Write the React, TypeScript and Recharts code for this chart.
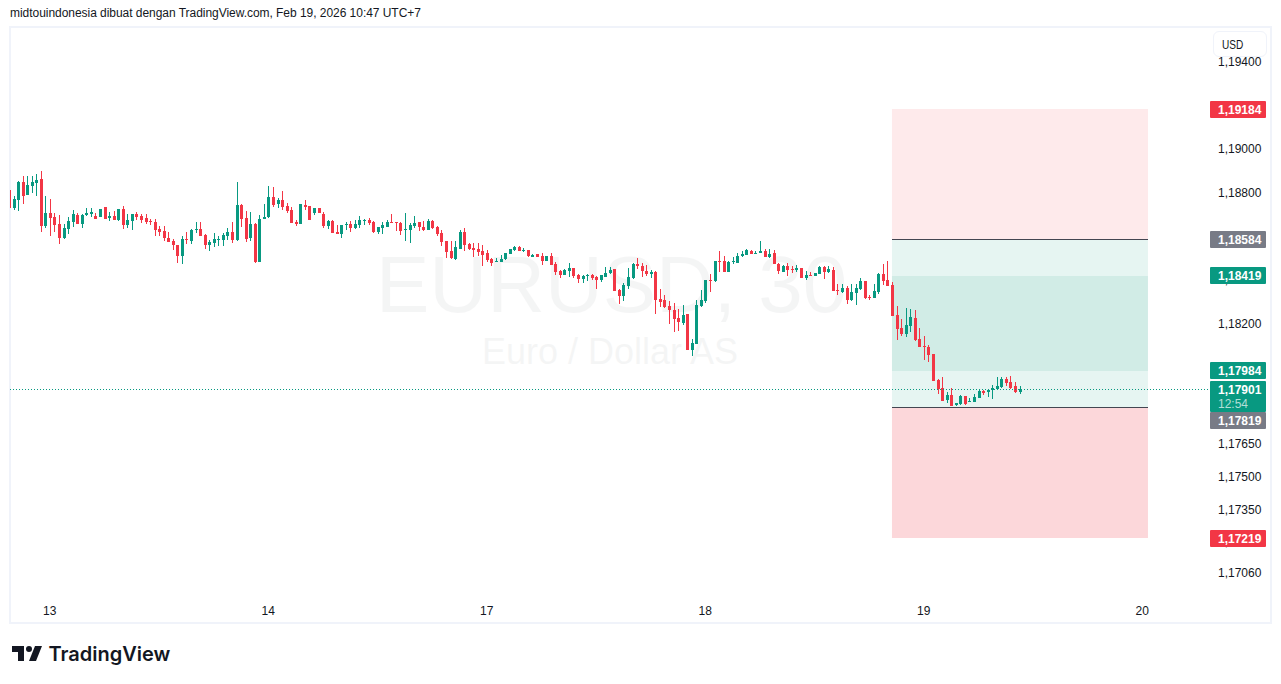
import React from 'react';
import { Bar, ComposedChart, ReferenceArea, ReferenceLine, XAxis, YAxis } from 'recharts';

// EUR/USD 30m candles, prices x 100000
const opens = [
  118813,118730,118767,118849,118790,118831,118845,118863,118648,118707,118689,
  118657,118593,118634,118666,118698,118657,118698,118703,118694,118689,
  118735,118684,118694,118675,118726,118652,118671,118703,118694,118684,
  118671,118666,118634,118625,118593,118579,118561,118510,118588,118579,
  118629,118634,118606,118561,118570,118584,118584,118602,118620,118584,
  118744,118684,118593,118657,118483,118680,118689,118781,118748,118767,
  118739,118721,118666,118657,118744,118740,118708,118731,118703,118648,
  118671,118621,118611,118653,118657,118639,118653,118671,118676,118666,
  118621,118639,118644,118666,118666,118662,118630,118630,118648,118666,
  118644,118630,118671,118644,118616,118579,118534,118497,118543,118621,
  118566,118547,118543,118534,118524,118497,118483,118483,118497,118520,
  118538,118552,118534,118538,118506,118520,118511,118488,118511,118474,
  118442,118424,118442,118456,118424,118405,118419,118424,118415,118401,
  118415,118433,118451,118355,118328,118373,118410,118474,118465,118442,
  118428,118438,118314,118309,118282,118263,118227,118204,118245,118080,
  118108,118282,118305,118401,118396,118488,118488,118438,118483,118479,
  118511,118515,118534,118520,118525,118534,118506,118525,118474,118438,
  118465,118451,118447,118456,118410,118424,118419,118428,118460,118438,
  118447,118355,118346,118364,118309,118341,118360,118396,118323,118318,
  118346,118428,118401,118378,118240,118181,118153,118190,118226,118130,
  118098,118094,118062,117942,117906,117851,117874,117828,117833,117869,
  117842,117842,117860,117892,117888,117897,117901,117910,117947,117933,117915,117888,
];
const highs = [
  118813,118785,118854,118877,118877,118877,118886,118900,118785,118771,118707,
  118698,118657,118689,118721,118707,118703,118730,118730,118707,118726,
  118735,118712,118716,118726,118739,118703,118703,118712,118703,118703,
  118680,118680,118648,118648,118620,118588,118561,118602,118620,118634,
  118666,118666,118611,118584,118616,118602,118616,118639,118666,118849,
  118748,118716,118712,118661,118698,118748,118831,118826,118776,118808,
  118753,118735,118675,118749,118767,118740,118731,118731,118712,118676,
  118676,118653,118653,118666,118671,118676,118694,118680,118685,118671,
  118644,118666,118676,118703,118666,118666,118708,118662,118694,118666,
  118671,118680,118676,118648,118630,118579,118579,118579,118630,118639,
  118570,118570,118570,118561,118538,118502,118502,118515,118524,118543,
  118557,118557,118547,118538,118520,118520,118524,118511,118524,118483,
  118447,118451,118479,118456,118428,118424,118428,118428,118419,118424,
  118460,118460,118451,118360,118387,118456,118479,118502,118479,118470,
  118447,118442,118360,118332,118305,118296,118268,118286,118245,118131,
  118309,118355,118401,118428,118488,118534,118511,118488,118506,118525,
  118534,118543,118538,118534,118580,118543,118543,118538,118479,118470,
  118479,118465,118470,118456,118442,118438,118433,118465,118465,118465,
  118460,118383,118383,118373,118383,118383,118410,118396,118332,118383,
  118433,118474,118488,118391,118281,118222,118272,118268,118263,118181,
  118144,118103,118062,117947,117956,117888,117906,117837,117874,117869,
  117860,117878,117901,117897,117901,117920,117956,117956,117956,117961,117933,117915,
];
const lows = [
  118731,118721,118716,118748,118790,118799,118785,118620,118639,118602,118620,
  118565,118588,118611,118643,118657,118639,118694,118689,118680,118689,
  118680,118671,118675,118671,118634,118639,118629,118675,118661,118657,
  118652,118602,118602,118579,118574,118538,118478,118474,118565,118565,
  118616,118602,118542,118533,118552,118556,118556,118584,118570,118579,
  118643,118574,118579,118478,118483,118680,118684,118735,118730,118721,
  118707,118661,118648,118657,118721,118676,118698,118708,118639,118634,
  118616,118611,118593,118630,118621,118634,118639,118653,118653,118616,
  118611,118611,118644,118662,118625,118607,118579,118570,118639,118625,
  118625,118630,118634,118602,118557,118502,118497,118492,118543,118534,
  118538,118506,118511,118465,118483,118465,118483,118483,118492,118520,
  118534,118534,118529,118506,118506,118506,118469,118488,118469,118424,
  118410,118424,118415,118410,118387,118387,118396,118401,118360,118392,
  118415,118428,118351,118291,118305,118360,118405,118451,118415,118419,
  118410,118245,118277,118273,118199,118163,118167,118195,118080,118053,
  118108,118277,118296,118346,118392,118438,118438,118438,118474,118479,
  118506,118515,118520,118520,118525,118506,118502,118474,118428,118438,
  118419,118433,118438,118410,118401,118419,118419,118428,118405,118433,
  118351,118332,118341,118291,118305,118286,118355,118314,118309,118318,
  118337,118378,118373,118236,118126,118144,118139,118162,118121,118094,
  118034,118025,117938,117878,117846,117837,117823,117823,117828,117828,
  117842,117842,117860,117874,117865,117855,117897,117906,117915,117901,117883,117878,
];
const closes = [
  118731,118771,118849,118785,118835,118849,118858,118648,118707,118684,118652,
  118593,118639,118671,118703,118657,118698,118707,118712,118680,118726,
  118680,118694,118675,118726,118652,118675,118703,118689,118675,118666,
  118666,118629,118620,118593,118574,118561,118510,118588,118584,118629,
  118634,118602,118561,118574,118588,118588,118606,118620,118584,118744,
  118680,118588,118657,118483,118680,118689,118781,118744,118767,118735,
  118716,118661,118657,118749,118735,118676,118731,118708,118648,118671,
  118616,118611,118653,118657,118639,118657,118676,118676,118662,118621,
  118644,118653,118666,118662,118662,118625,118634,118653,118662,118644,
  118630,118671,118639,118611,118575,118529,118502,118552,118621,118561,
  118543,118538,118529,118515,118492,118479,118488,118497,118524,118543,
  118552,118534,118538,118511,118515,118506,118488,118511,118469,118437,
  118424,118447,118456,118419,118405,118419,118424,118410,118401,118424,
  118433,118447,118351,118328,118378,118415,118474,118465,118442,118428,
  118438,118309,118300,118277,118263,118222,118209,118241,118080,118112,
  118286,118309,118401,118396,118488,118483,118438,118483,118488,118511,
  118520,118538,118520,118525,118534,118506,118520,118474,118442,118465,
  118447,118447,118456,118410,118424,118419,118433,118460,118438,118451,
  118351,118351,118364,118309,118346,118364,118396,118318,118318,118351,
  118428,118396,118373,118236,118176,118153,118194,118231,118126,118094,
  118094,118057,117938,117901,117846,117874,117823,117837,117869,117833,
  117846,117865,117892,117883,117897,117906,117915,117947,117929,117906,117888,117901,
];

const dayTicks = [9, 57, 105, 153, 201, 249];
const dayLabels = ['13', '14', '17', '18', '19', '20'];
const priceTicks = [1.194, 1.192, 1.19, 1.188, 1.186, 1.184, 1.182, 1.18, 1.178, 1.1765, 1.175, 1.1735, 1.172, 1.1706];

const stopPrice = 1.19184;
const entryShort = 1.18584;
const targetHigh = 1.18419;
const targetLow = 1.17984;
const entryLong = 1.17819;
const stopLow = 1.17219;
const lastPrice = 1.17901;
const countdown = '12:54';
const toolStart = 194.03;
const toolEnd = 250.27;

const RED = '#f23645';
const GREEN = '#089981';
const GRAY = '#787b86';
const FONT = '"Liberation Sans", Arial, sans-serif';

const X_DOMAIN = [0.275, 263.46];
const Y_DOMAIN = [1.16935, 1.195596];
const MARGIN = { top: 27, right: 0, bottom: 60, left: 10 };

const candles = opens.map((open, i) => ({
  i,
  open: open / 100000,
  high: highs[i] / 100000,
  low: lows[i] / 100000,
  close: closes[i] / 100000,
  range: [lows[i] / 100000, highs[i] / 100000],
}));

const fmt = (p: number) => p.toFixed(5).replace('.', ',');

const Candle = (props: any) => {
  const { x, y, width, height, payload } = props;
  const { open, high, low, close } = payload;
  const color = close >= open ? GREEN : RED;
  const perPrice = height / (high - low || 1);
  const top = y + (high - Math.max(open, close)) * perPrice;
  const bodyH = Math.max(Math.abs(open - close) * perPrice, 1);
  const cx = Math.round(x + width / 2);
  return (
    <g shapeRendering="crispEdges">
      <rect x={cx} y={Math.round(y)} width={1} height={Math.max(Math.round(height), 1)} fill={color} />
      <rect x={cx - 1} y={Math.round(top)} width={3} height={Math.max(Math.round(bodyH), 1)} fill={color} />
    </g>
  );
};

// dy nudges a tag off its price, the way the platform stacks colliding labels
const priceTag = (price: number, color: string, dy = 0, sub?: string) => (props: any) => {
  const y = Math.round(props.viewBox.y) + dy;
  return (
    <g>
      <rect x={1210} y={y - 8} width={56} height={sub ? 31 : 17} rx={1} fill={color} />
      <text x={1218} y={y + 4.5} fontSize={12} fontFamily={FONT} fontWeight={700} fill="#fff">{fmt(price)}</text>
      {sub && <text x={1218} y={y + 18.5} fontSize={12} fontFamily={FONT} fill="#fff" fillOpacity={0.7}>{sub}</text>}
    </g>
  );
};

export default function App() {
  return (
    <div style={{ position: 'absolute', left: 0, top: 0, width: 1281, height: 684, background: '#fff', overflow: 'hidden', fontFamily: FONT }}>
      <div style={{ position: 'absolute', left: 10, top: 6, fontSize: 12, lineHeight: '14px', letterSpacing: -0.04, color: '#131722', whiteSpace: 'nowrap' }}>
        midtouindonesia dibuat dengan TradingView.com, Feb 19, 2026 10:47 UTC+7
      </div>
      <div style={{ position: 'absolute', left: 9, top: 26, width: 1259, height: 594, border: '2px solid #f0f3fa' }} />

      <div style={{ position: 'absolute', left: 376, top: 240, fontSize: 80, lineHeight: '90px', color: '#131722', opacity: 0.04, whiteSpace: 'nowrap' }}>EURUSD, 30</div>
      <div style={{ position: 'absolute', left: 482, top: 332, fontSize: 36, lineHeight: '40px', color: '#131722', opacity: 0.04, whiteSpace: 'nowrap' }}>Euro / Dollar AS</div>

      <div style={{ position: 'absolute', left: 0, top: 0 }}>
        <ComposedChart width={1281} height={684} data={candles} margin={MARGIN}>
          <XAxis
            dataKey="i"
            type="number"
            domain={X_DOMAIN}
            allowDataOverflow
            ticks={dayTicks}
            interval={0}
            tickFormatter={(v: number) => dayLabels[dayTicks.indexOf(v)]}
            height={24}
            axisLine={false}
            tickLine={false}
            tickSize={0}
            tickMargin={6}
            tick={{ fontSize: 12, fontFamily: FONT, fill: '#131722' }}
          />
          <YAxis
            orientation="right"
            type="number"
            domain={Y_DOMAIN}
            ticks={priceTicks}
            interval={0}
            width={73}
            axisLine={false}
            tickLine={false}
            tickSize={0}
            tickMargin={10}
            tickFormatter={fmt}
            tick={{ fontSize: 12, fontFamily: FONT, fill: '#131722', textAnchor: 'start' }}
          />

          <ReferenceArea x1={toolStart} x2={toolEnd} y1={entryShort} y2={stopPrice} fill="#feeaeb" fillOpacity={1} stroke="none" />
          <ReferenceArea x1={toolStart} x2={toolEnd} y1={targetHigh} y2={entryShort} fill="#e6f5f2" fillOpacity={1} stroke="none" />
          <ReferenceArea x1={toolStart} x2={toolEnd} y1={targetLow} y2={targetHigh} fill="#d1ece6" fillOpacity={1} stroke="none" />
          <ReferenceArea x1={toolStart} x2={toolEnd} y1={entryLong} y2={targetLow} fill="#e6f5f2" fillOpacity={1} stroke="none" />
          <ReferenceArea x1={toolStart} x2={toolEnd} y1={stopLow} y2={entryLong} fill="#fcd7da" fillOpacity={1} stroke="none" />

          <ReferenceLine segment={[{ x: toolStart, y: entryShort }, { x: toolEnd, y: entryShort }]} stroke="#434651" strokeWidth={1} shapeRendering="crispEdges" />
          <ReferenceLine segment={[{ x: toolStart, y: entryLong }, { x: toolEnd, y: entryLong }]} stroke="#434651" strokeWidth={1} shapeRendering="crispEdges" />
          <ReferenceLine y={lastPrice} stroke={GREEN} strokeDasharray="1 2" strokeWidth={1} shapeRendering="crispEdges" />

          <Bar dataKey="range" barSize={3} shape={Candle} isAnimationActive={false} />
        </ComposedChart>
      </div>

      {/* second layer so the price tags sit above the axis labels */}
      <div style={{ position: 'absolute', left: 0, top: 0 }}>
        <ComposedChart width={1281} height={684} data={candles} margin={MARGIN}>
          <XAxis dataKey="i" type="number" domain={X_DOMAIN} allowDataOverflow height={24} axisLine={false} tickLine={false} tick={false} />
          <YAxis orientation="right" type="number" domain={Y_DOMAIN} width={73} axisLine={false} tickLine={false} tick={false} />
          <Bar dataKey="range" barSize={3} shape={() => null} isAnimationActive={false} />
          <ReferenceLine y={stopPrice} stroke="#fff0" label={priceTag(stopPrice, RED)} />
          <ReferenceLine y={entryShort} stroke="#fff0" label={priceTag(entryShort, GRAY, -1)} />
          <ReferenceLine y={targetHigh} stroke="#fff0" label={priceTag(targetHigh, GREEN, -1)} />
          <ReferenceLine y={targetLow} stroke="#fff0" label={priceTag(targetLow, GREEN, -1)} />
          <ReferenceLine y={lastPrice} stroke="#fff0" label={priceTag(lastPrice, GREEN, 0, countdown)} />
          <ReferenceLine y={entryLong} stroke="#fff0" label={priceTag(entryLong, GRAY, 13)} />
          <ReferenceLine y={stopLow} stroke="#fff0" label={priceTag(stopLow, RED)} />
        </ComposedChart>
      </div>

      <div style={{ position: 'absolute', left: 1213, top: 31, width: 52, height: 24, border: '1px solid #f0f3fa', borderRadius: 6, background: '#fff', fontSize: 12, lineHeight: '26px', color: '#131722' }}>
        <span style={{ display: 'inline-block', marginLeft: 8, transform: 'scaleX(0.84)', transformOrigin: 'left center' }}>USD</span>
      </div>

      <svg style={{ position: 'absolute', left: 10, top: 640 }} width={36} height={28} viewBox="0 0 36 28">
        <path d="M14 6H2v6h6v9h6V6Zm12 15h-7l6-15h7l-6 15Zm-7-9a3 3 0 1 0 0-6 3 3 0 0 0 0 6Z" fill="#131722" />
      </svg>
      <div style={{ position: 'absolute', left: 48.5, top: 641, fontFamily: 'Inter, sans-serif', fontWeight: 600, fontSize: 20, lineHeight: '26px', color: '#131722', whiteSpace: 'nowrap' }}>TradingView</div>
    </div>
  );
}
